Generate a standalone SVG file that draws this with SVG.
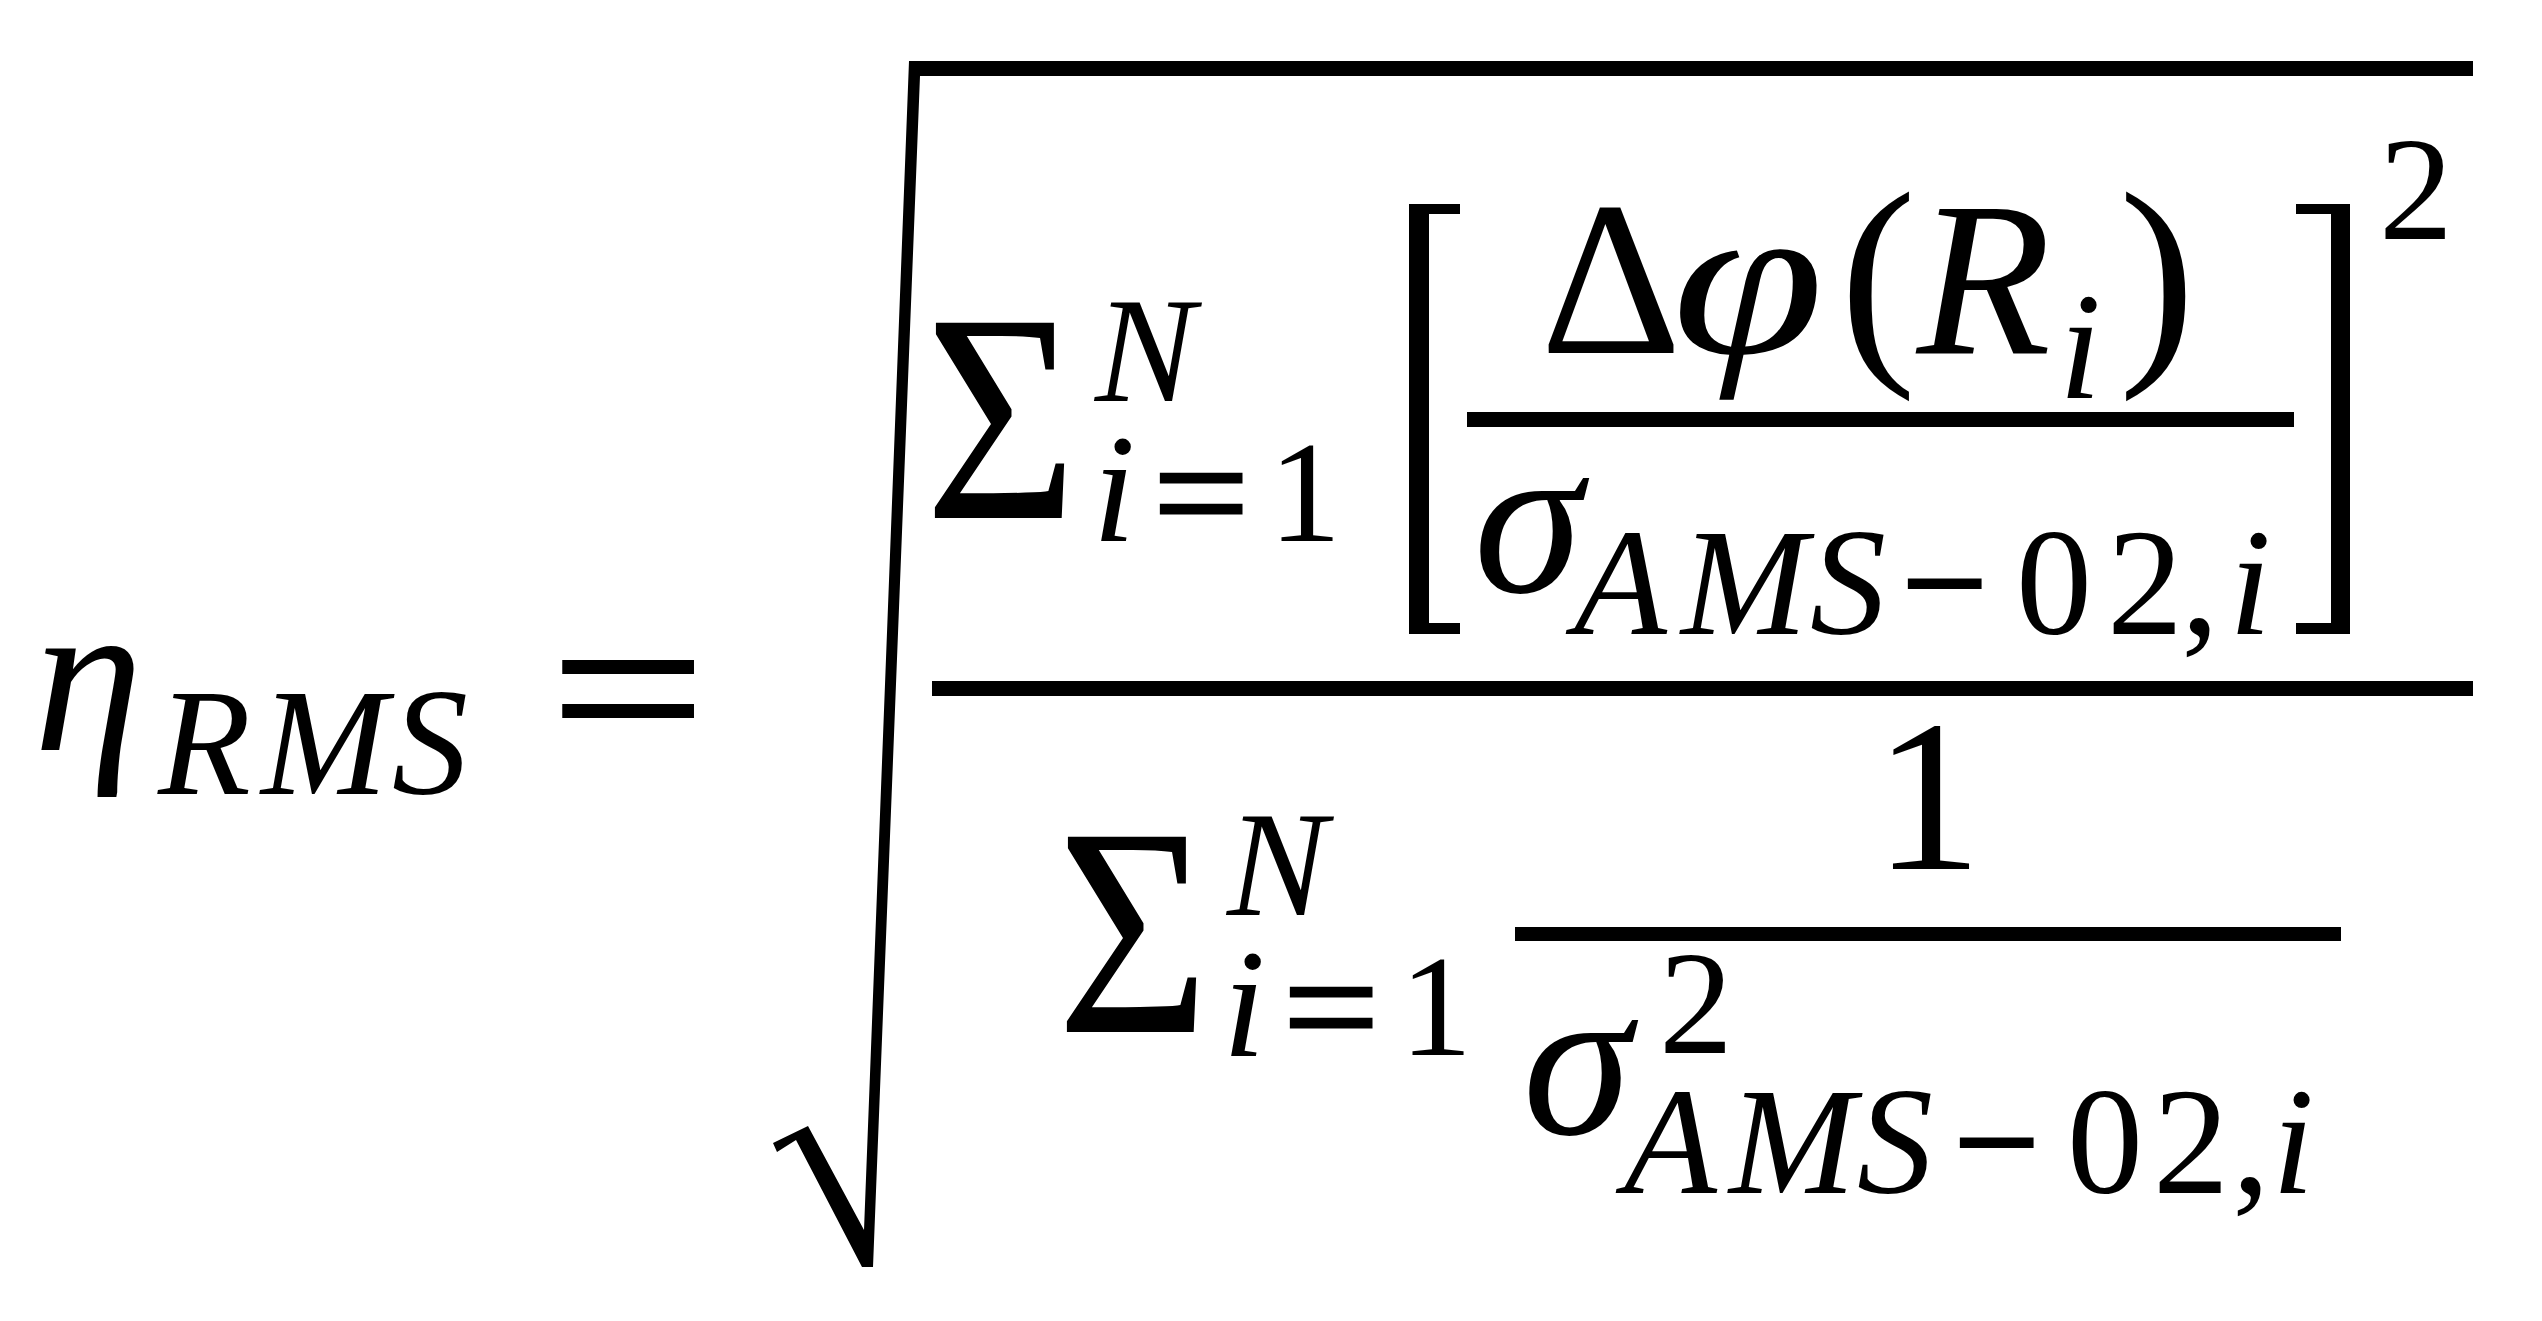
<svg xmlns="http://www.w3.org/2000/svg" width="2542" height="1321" viewBox="0 0 2542 1321">
<style>
text{font-family:"Liberation Serif","DejaVu Serif",serif;fill:#000}
.it{font-style:italic}
.big{font-size:220px}
.sub{font-size:152px}
.op{stroke:#000;stroke-width:3}
.bar{fill:#000}
</style>
<rect width="2542" height="1321" fill="#fff"/>
<g id="lhs">
<text class="it big" x="88" y="750" text-anchor="middle">η</text>
<text class="it sub" y="794"><tspan x="158">R</tspan><tspan x="261">M</tspan><tspan x="392">S</tspan></text>
</g>
<g id="equals">
<text class="big op" x="628" y="762" text-anchor="middle" transform="translate(628 0) scale(1.25 1) translate(-628 0)">=</text>
</g>
<g id="connectors">
<path id="radical" d="M773 1143 L808 1126 L864 1230 L909 61 L2473 61 L2473 76 L920 76 L873 1267 L862 1267 L796 1140 L777 1152 Z"/>
<rect id="mainbar" class="bar" x="932" y="681" width="1541" height="15"/>
<rect id="innerbar" class="bar" x="1467" y="412" width="827" height="15"/>
<rect id="lowerbar" class="bar" x="1515" y="927" width="826" height="14"/>
<path id="lbracket" d="M1409 204 H1460 V214 H1429 V623 H1460 V634 H1409 Z"/>
<path id="rbracket" d="M2296 204 H2350 V634 H2296 V623 H2331 V214 H2296 Z"/>
</g>
<g id="numerator-sum">
<text x="1001" y="518" font-size="298" text-anchor="middle" transform="translate(1001 0) scale(0.88 1) translate(-1001 0)">Σ</text>
<text class="it" x="1145" y="401" font-size="150" text-anchor="middle">N</text>
<text class="it" x="1114" y="541" font-size="155" text-anchor="middle">i</text>
<text class="op" x="1201" y="545" font-size="155" text-anchor="middle" transform="translate(1201 0) scale(1.1 1) translate(-1201 0)">=</text>
<text x="1305" y="541" font-size="145" text-anchor="middle">1</text>
</g>
<g id="inner-fraction">
<text class="big" x="1611" y="353" text-anchor="middle">Δ</text>
<text class="it big" x="1748" y="353" text-anchor="middle" transform="translate(1748 0) scale(1.25 1) translate(-1748 0)">φ</text>
<text x="1878" y="352" font-size="230" text-anchor="middle">(</text>
<text class="it big" x="1984" y="353" text-anchor="middle">R</text>
<text class="it sub" x="2080" y="398" text-anchor="middle">i</text>
<text x="2157" y="352" font-size="230" text-anchor="middle">)</text>
<text class="it big" x="1528" y="592" text-anchor="middle">σ</text>
<text class="sub" y="634"><tspan class="it" x="1574">A</tspan><tspan class="it" x="1681">M</tspan><tspan class="it" x="1810">S</tspan><tspan class="op" x="1902">−</tspan><tspan x="2016">0</tspan><tspan x="2107">2</tspan><tspan x="2181">,</tspan><tspan class="it" x="2229">i</tspan></text>
<text x="2416" y="239" font-size="148" text-anchor="middle">2</text>
</g>
<g id="denominator-sum">
<text x="1133" y="1032" font-size="298" text-anchor="middle" transform="translate(1133 0) scale(0.88 1) translate(-1133 0)">Σ</text>
<text class="it" x="1277" y="915" font-size="150" text-anchor="middle">N</text>
<text class="it" x="1244" y="1056" font-size="155" text-anchor="middle">i</text>
<text class="op" x="1331" y="1059" font-size="155" text-anchor="middle" transform="translate(1331 0) scale(1.1 1) translate(-1331 0)">=</text>
<text x="1436" y="1055" font-size="145" text-anchor="middle">1</text>
</g>
<g id="lower-fraction">
<text x="1928" y="869" font-size="216" text-anchor="middle">1</text>
<text class="it big" x="1577" y="1134" text-anchor="middle">σ</text>
<text x="1696" y="1053" font-size="148" text-anchor="middle">2</text>
<text class="sub" y="1193"><tspan class="it" x="1624">A</tspan><tspan class="it" x="1729">M</tspan><tspan class="it" x="1857">S</tspan><tspan class="op" x="1954">−</tspan><tspan x="2067">0</tspan><tspan x="2153">2</tspan><tspan x="2232">,</tspan><tspan class="it" x="2272">i</tspan></text>
</g>
</svg>
